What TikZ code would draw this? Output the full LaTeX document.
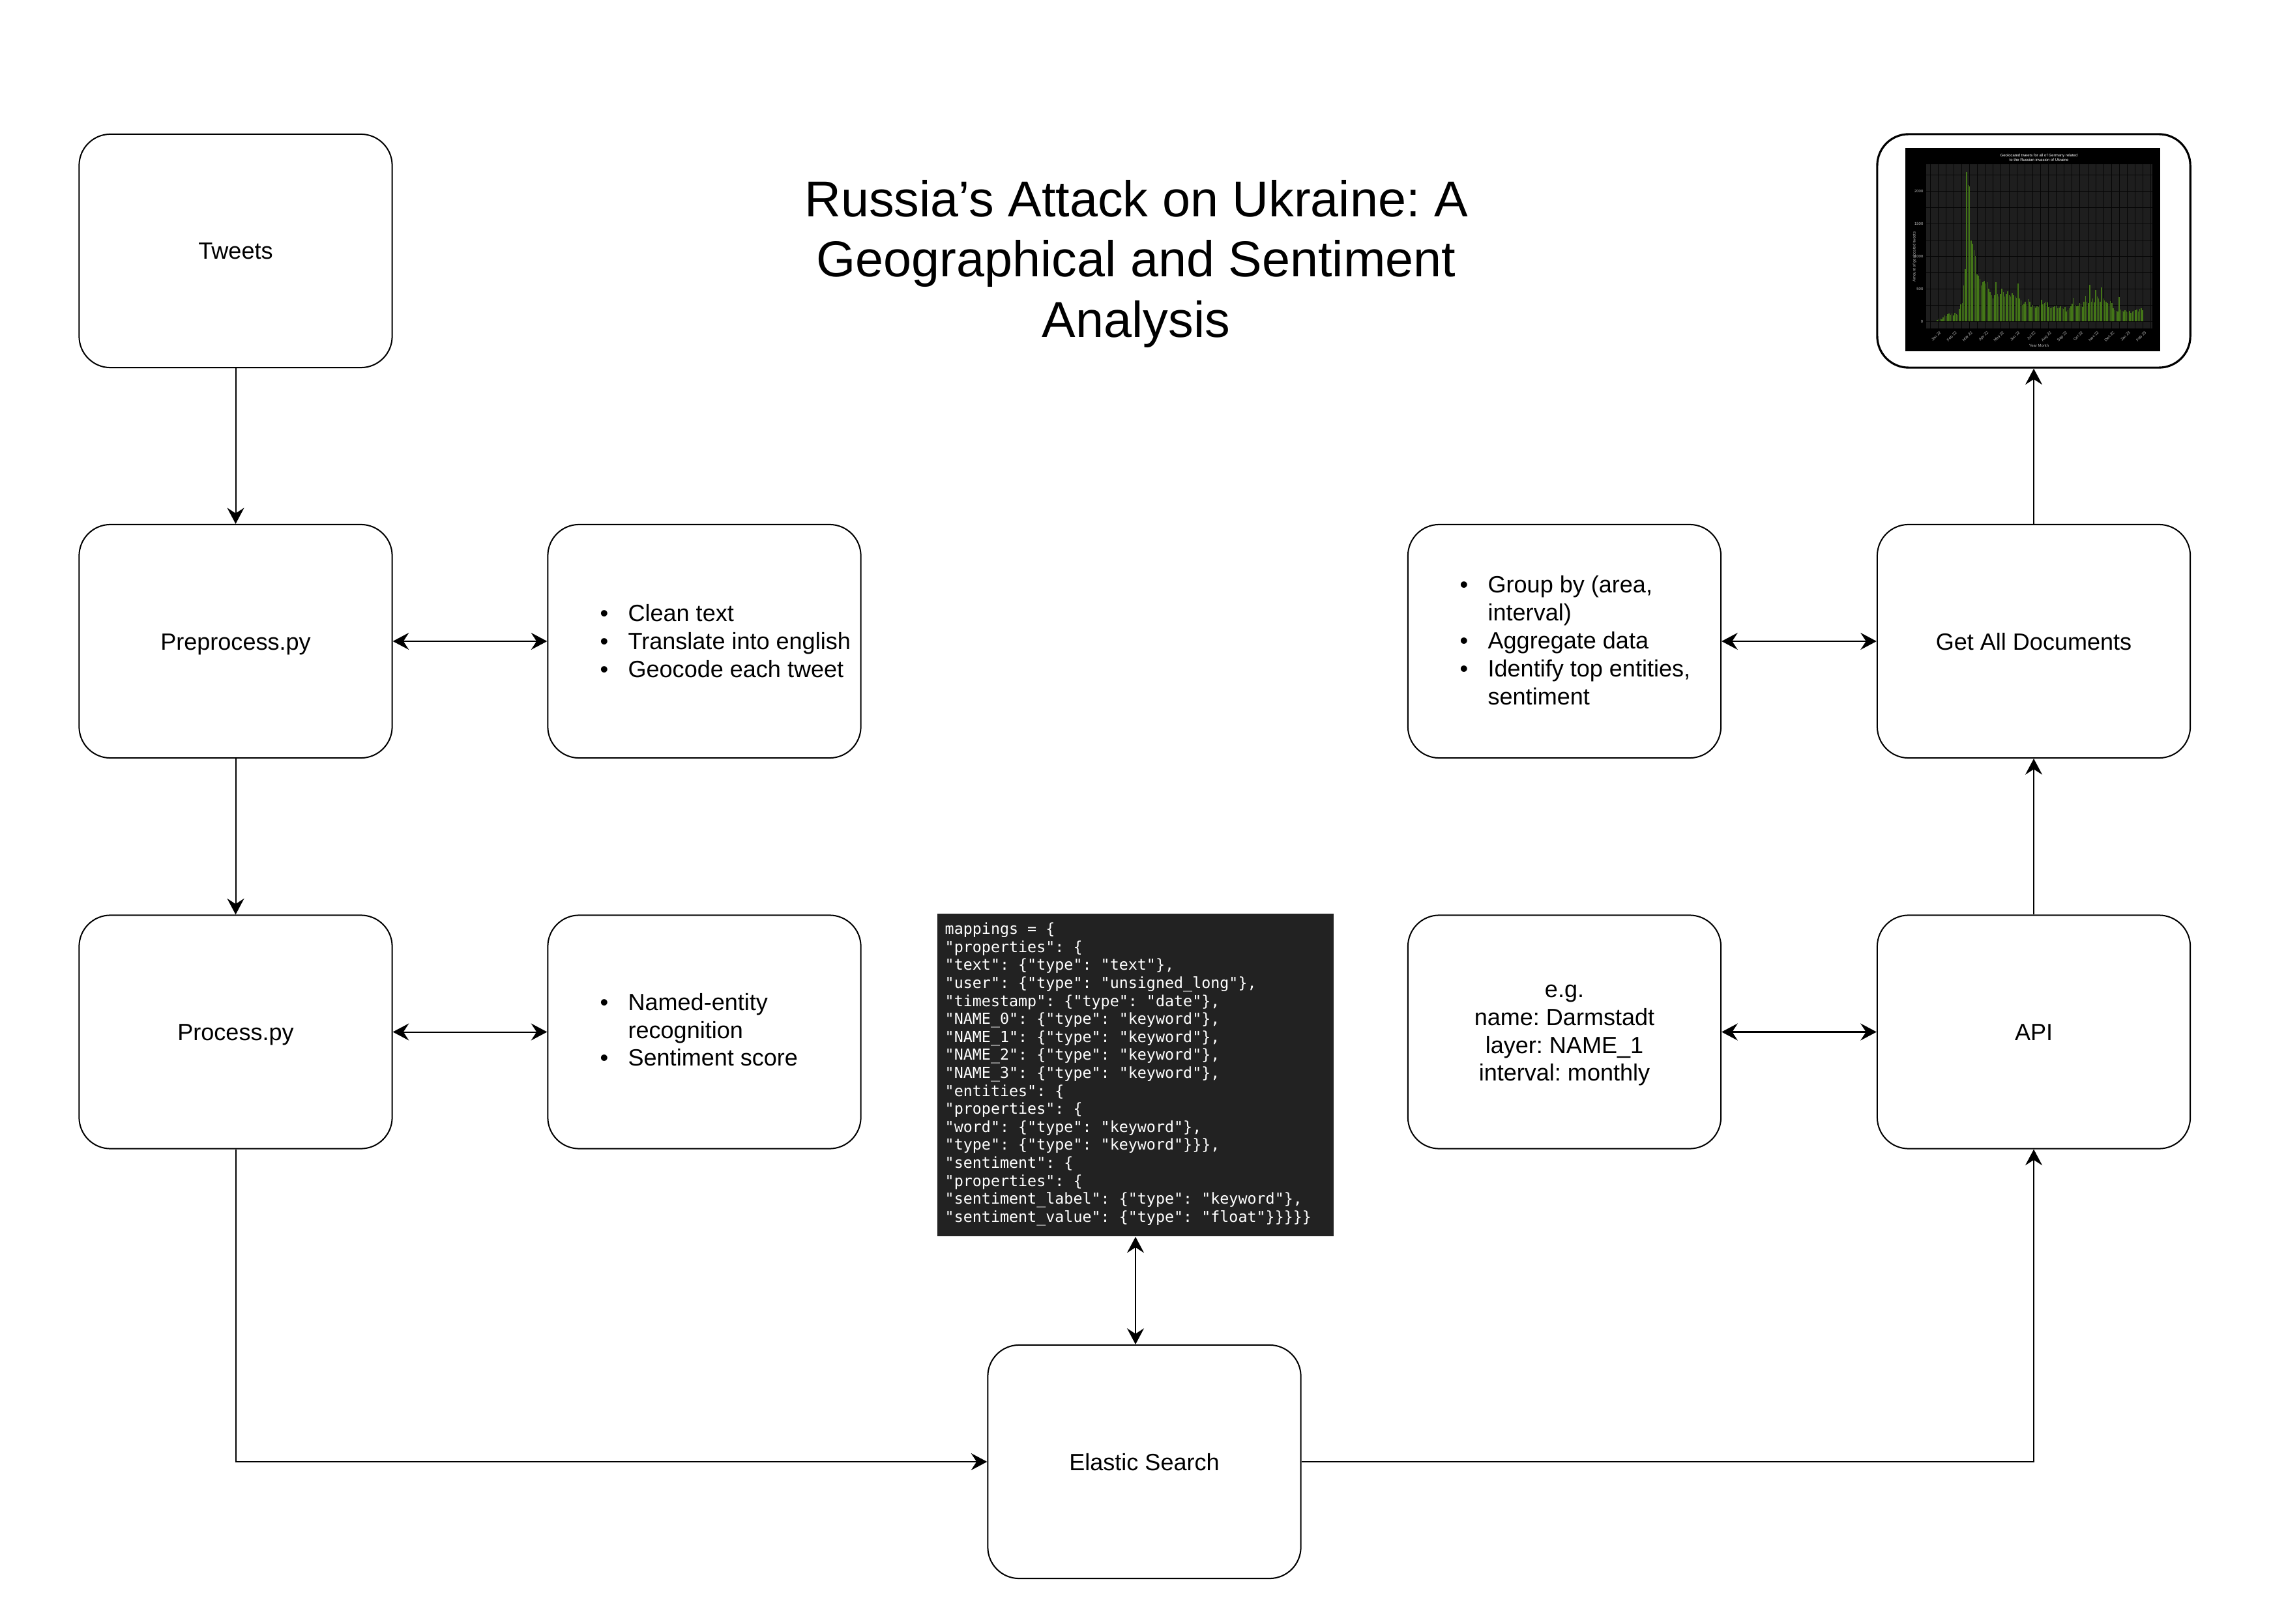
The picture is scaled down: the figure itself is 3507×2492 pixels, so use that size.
\documentclass[tikz,border=0pt]{standalone}
\usepackage{fontspec}
\setmainfont{Liberation Sans}
\setmonofont{DejaVu Sans Mono}
\usetikzlibrary{arrows.meta}
\frenchspacing
\definecolor{codebg}{RGB}{34,34,34}
\definecolor{plotbg}{RGB}{30,30,30}
\definecolor{gridc}{RGB}{6,6,6}
\definecolor{bargreen}{RGB}{68,118,24}
\definecolor{ticktxt}{RGB}{185,185,185}
\newcommand{\bul}{\makebox[12.2pt][l]{\textbullet}}
\newcommand{\bcont}{\hspace*{12.2pt}}
\tikzset{
  box/.style={draw, line width=0.57pt, rounded corners=0.48cm, minimum width=4.8cm,
    minimum height=3.58cm, inner sep=0pt, text height=7.4pt, text depth=0pt,
    font=\fontsize{10.25}{12.2}\selectfont},
  txt/.style={align=left, inner sep=0pt, font=\fontsize{10.25}{12.2}\selectfont},
  ctxt/.style={align=center, inner sep=0pt, font=\fontsize{10.25}{12.2}\selectfont},
  arr/.style={line width=0.57pt, -{Stealth[length=7pt,width=7.4pt,inset=2.4pt]}},
  darr/.style={line width=0.57pt, {Stealth[length=7pt,width=7.4pt,inset=2.4pt]}-{Stealth[length=7pt,width=7.4pt,inset=2.4pt]}},
  tiny/.style={inner sep=0pt, text=ticktxt, font=\fontsize{1.7}{2}\selectfont},
}
\begin{document}
\begin{tikzpicture}[x=0.01cm,y=-0.01cm]
\useasboundingbox (0,0) rectangle (3507,2492);
\fill[white] (0,0) rectangle (3507,2492);

% title
\node[align=center, inner sep=0pt, font=\fontsize{22}{26.4}\selectfont] (title) at (1743,405)
  {Russia’s Attack on Ukraine: A\\Geographical and Sentiment\\Analysis};

% boxes
\node[box] (tweets) at (361.5,385) {Tweets};
\node[box] (pre) at (361.5,984) {Preprocess.py};
\node[box] (preb) at (1080.5,984) {};
\node[box] (proc) at (361.5,1583.5) {Process.py};
\node[box] (procb) at (1080.5,1583.5) {};
\node[box] (es) at (1755.5,2243) {Elastic Search};
\node[box] (agg) at (2400,984) {};
\node[box] (get) at (3120,984) {Get All Documents};
\node[box] (eg) at (2400,1583.5) {};
\node[box] (api) at (3120,1583.5) {API};
\node[box, line width=0.9pt] (chart) at (3120,385) {};

% box texts
\node[txt, anchor=west] (pretxt) at (920,988)
  {\strut\bul Clean text\\\bul Translate into english\\\bul Geocode each tweet\strut};
\node[txt, anchor=west] (proctxt) at (920,1584.5)
  {\strut\bul Named-entity\\\bcont recognition\\\bul Sentiment score\strut};
\node[txt, anchor=west] (aggtxt) at (2239,987)
  {\strut\bul Group by (area,\\\bcont interval)\\\bul Aggregate data\\\bul Identify top entities,\\\bcont sentiment\strut};
\node[ctxt] (egtxt) at (2400,1586)
  {\strut e.g.\\name: Darmstadt\\layer: NAME\_1\\interval: monthly\strut};

% code block
\node[fill=codebg, minimum width=6.08cm, minimum height=4.95cm, inner sep=0pt] (code) at (1742,1649.5) {};
\node[anchor=west, align=left, inner sep=0pt, text=white,
  font=\ttfamily\fontsize{6.64}{7.85}\selectfont] (codetxt) at (1449,1649)
{\strut mappings = \{\\
"properties": \{\\
"text": \{"type": "text"\},\\
"user": \{"type": "unsigned\_long"\},\\
"timestamp": \{"type": "date"\},\\
"NAME\_0": \{"type": "keyword"\},\\
"NAME\_1": \{"type": "keyword"\},\\
"NAME\_2": \{"type": "keyword"\},\\
"NAME\_3": \{"type": "keyword"\},\\
"entities": \{\\
"properties": \{\\
"word": \{"type": "keyword"\},\\
"type": \{"type": "keyword"\}\}\},\\
"sentiment": \{\\
"properties": \{\\
"sentiment\_label": \{"type": "keyword"\},\\
"sentiment\_value": \{"type": "float"\}\}\}\}\}\strut};

% chart picture
\fill[black] (2923,227) rectangle (3314,539);
\fill[plotbg] (2955,252) rectangle (3302,504);
\foreach \k in {0,...,28} \draw[gridc, line width=0.25pt] ({2960.9+\k*12.1},252) -- ({2960.9+\k*12.1},504);
\foreach \j in {0,...,9} \draw[gridc, line width=0.25pt] (2955,{493-\j*24.9}) -- (3302,{493-\j*24.9});
\foreach \v [count=\i from 0] in {20,40,40,35,60,90,80,110,120,100,120,90,130,110,100,190,260,280,550,800,2300,2100,2080,1250,1200,1100,1000,720,700,650,550,600,620,580,600,500,450,400,350,400,600,420,380,420,500,450,380,420,460,400,380,430,400,380,360,580,350,320,250,270,300,260,340,300,220,250,230,210,230,220,250,330,260,280,300,290,220,200,210,220,230,240,200,210,230,200,190,220,150,170,200,230,270,360,250,230,240,280,260,220,300,390,300,280,560,300,350,290,480,380,350,300,520,350,320,300,280,260,310,280,200,170,160,150,370,180,160,150,170,150,140,160,130,150,160,170,180,150,190,200,170}
  \fill[bargreen] ({2971.2+\i*2.25},493) rectangle ++(1.6,{-\v*0.0995});
\node[tiny, text=white, align=center] (ctitle) at (3128,242)
  {Geolocated tweets for all of Germany related\\to the Russian invasion of Ukraine};
\foreach \lab [count=\j from 0] in {0,500,1000,1500,2000}
  \node[tiny, anchor=east] (yt\j) at (2951,{493-\j*49.8}) {\lab};
\node[tiny, rotate=90] (ylab) at (2937,394) {Amount of geolocated tweets};
\foreach \lab [count=\k from 0] in {Jan 22,Feb 22,Mar 22,Apr 22,May 22,Jun 22,Jul 22,Aug 22,Sep 22,Oct 22,Nov 22,Dec 22,Jan 23,Feb 23}
  \node[tiny, anchor=north east, rotate=45] (xt\k) at ({2975+\k*24.2},507) {\lab};
\node[tiny] (xlab) at (3128,530) {Year Month};

% connectors
\draw[arr] (tweets.south) -- (pre.north);
\draw[arr] (pre.south) -- (proc.north);
\draw[darr] (pre.east) -- (preb.west);
\draw[darr] (proc.east) -- (procb.west);
\draw[arr] (proc.south) |- (es.west);
\draw[arr] (es.east) -| (api.south);
\draw[arr] (api.north) -- (get.south);
\draw[arr] (get.north) -- (chart.south);
\draw[darr] (agg.east) -- (get.west);
\draw[darr, line width=0.85pt] (eg.east) -- (api.west);
\draw[darr] (code.south) -- (code.south |- es.north);
\end{tikzpicture}
\end{document}
